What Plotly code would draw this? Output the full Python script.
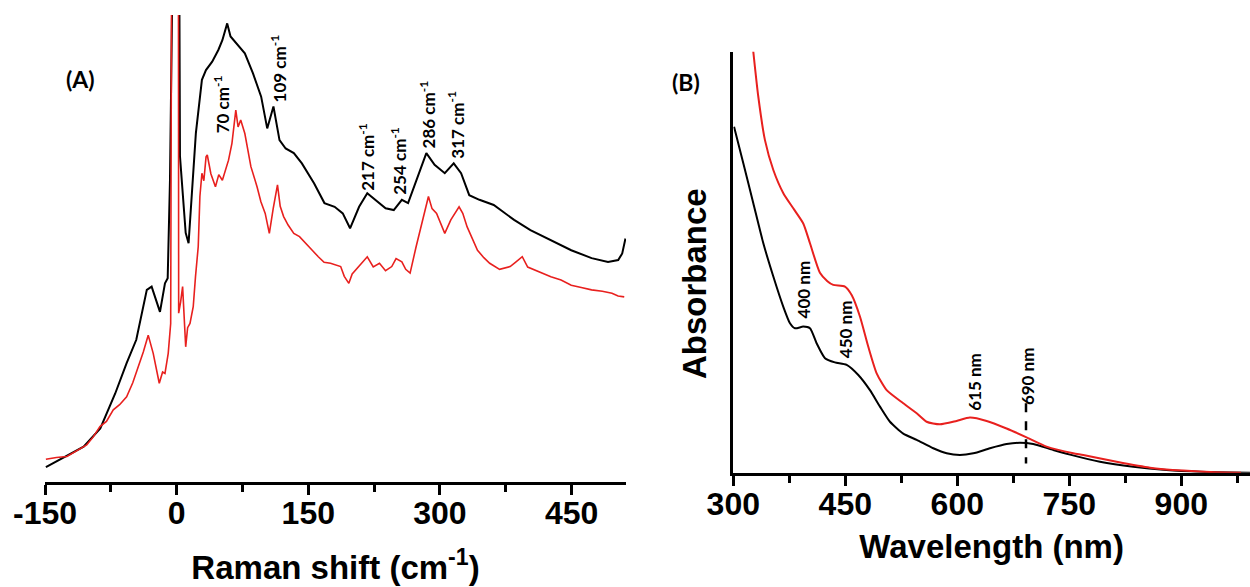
"""Raman (A) and UV-vis absorbance (B) spectra, two-panel figure."""
import plotly.graph_objects as go

# ---- panel A: Raman shift (cm-1) vs intensity (a.u.) ----
raman_x_black = [-149, -106, -87, -70, -57, -46, -34, -28.5, -19, -13.3, -10.2, -7.6,
                 -4, 2.8, 3.8, 6.5, 10.3, 13.6, 17.2, 21.9, 28.8, 33.4, 40.5, 47.5,
                 52.1, 57.6, 61.4, 68.4, 77.7, 87, 96.3, 103.2, 110.3, 117.2, 124.2,
                 133.5, 142.7, 156.7, 168.4, 180, 189.3, 197.6, 207.9, 217.2, 226.5,
                 238.1, 247.4, 256.6, 263.7, 272.9, 284.5, 293.9, 305.5, 315.7, 324.1,
                 333.4, 345, 361.3, 384.5, 403.1, 426.3, 449.6, 472.8, 491.5, 503.1,
                 507.7, 511.4]
raman_y_black = [3.1, 7.5, 11.4, 18.9, 25.4, 30.4, 41.1, 41.8, 36.4, 42.5, 43.6, 64.6,
                 120, 120, 69.7, 63.2, 53.3, 51.1, 60.4, 74.7, 86.1, 88.2, 90.0, 92.5,
                 94.6, 98.2, 95.4, 93.9, 91.8, 87.5, 82.5, 75.7, 80.4, 73.2, 71.4,
                 70.4, 68.2, 63.9, 59.7, 58.9, 57.5, 54.3, 58.9, 61.8, 60.4,
                 58.6, 58.2, 60.4, 59.7, 64.6, 70.4, 67.9, 66.1, 68.2, 66.1,
                 61.4, 60.4, 59.3, 56.1, 53.9, 51.8, 49.6, 47.9, 47.1, 47.5,
                 48.9, 52.1]

raman_x_red = [-149, -137, -125, -113, -102.5, -95, -87.4, -80, -72.2, -65, -57, -50,
               -43.7, -38, -32.4, -26.7, -19.8, -16, -13.3, -9.6, -6.8, -5.6, 2.0,
               2.3, 4.5, 6.8, 10.3, 12.5, 15.2, 18.9, 21.5, 24.6, 26.5, 28.8, 31,
               33.5, 34.9, 39, 44.2, 48, 52.1, 59.1, 63, 67.4, 70, 73, 77.7, 81,
               84.6, 91.6, 96, 100.9, 105.6, 110, 114.9, 118, 121.9, 127, 133.5,
               140, 147.4, 155, 161.4, 168, 175.3, 186.9, 191, 196.2, 200, 207.9,
               217.2, 224, 231.1, 238, 245.1, 250, 256.6, 261, 266, 272.9, 280,
               286.9, 291, 296.2, 305.5, 312.4, 321.8, 326, 331, 342.8, 350, 356.7,
               368, 380, 386, 393.8, 400, 407.8, 426.4, 438, 449.6, 461, 472.8,
               485, 496, 503, 510]
raman_y_red = [4.8, 5.2, 5.4, 6.8, 7.9, 9.6, 11.8, 12.9, 15.4, 16.5, 18.2, 21.2,
               24.6, 27.8, 31.4, 27.5, 21.1, 23.5, 23.2, 27.5, 33.9, 120, 120,
               36.1, 38.5, 41.8, 28.9, 33.0, 33.9, 37.5, 44.0, 50.4, 61.1, 66.1, 64.5,
               69.6, 70.0, 66.0, 63.2, 65.8, 64.6, 68.9, 72.5, 79.6, 76.0, 77.5, 74.6, 71.5,
               67.5, 63.2, 60.0, 57.5, 53.2, 58.5, 63.6, 59.0, 56.8, 55.0, 53.2,
               52.5, 51.1, 49.5, 48.2, 47.0, 46.8, 46.1, 44.0, 42.5, 44.5, 46.1,
               48.2, 46.0, 46.8, 45.2, 46.1, 47.8, 47.1, 45.5, 44.7, 50.4, 56.0,
               61.1, 58.5, 57.5, 53.2, 56.1, 58.9, 57.5, 54.6, 49.6, 48.0, 46.8,
               45.5, 46.1, 47.0, 48.2, 46.0, 45.4, 43.9, 43.2, 42.1, 41.6, 41.1,
               40.8, 40.4, 39.8, 39.6]

raman_ticks = [-150, 0, 150, 300, 450]
raman_tick_text = ["-150", "0", "150", "300", "450"]
raman_peaks = ["70", "109", "217", "254", "286", "317"]
raman_peak_x = [51.3, 115.7, 216.8, 252.4, 285.9, 317.8]
raman_peak_y = [80.8, 88.6, 69.6, 68.8, 78.6, 76.4]

# ---- panel B: wavelength (nm) vs absorbance (a.u.) ----
wl_black = [301, 313.4, 326.8, 340.2, 353.6, 367, 375.9, 382.6, 393.7, 402.7,
            411.7, 422.8, 436, 451.8, 467.4, 483, 496.4, 509.8, 527.6, 545.6,
            567.8, 585.7, 603.5, 621.4, 643.7, 666, 683.9, 701.7, 728.5, 751,
            791, 835.6, 880, 925, 992]
abs_black = [0.822, 0.735, 0.640, 0.545, 0.466, 0.394, 0.355, 0.343, 0.347, 0.343,
             0.307, 0.272, 0.262, 0.256, 0.232, 0.196, 0.157, 0.121, 0.093, 0.078,
             0.058, 0.046, 0.042, 0.046, 0.058, 0.068, 0.071, 0.068, 0.054, 0.043,
             0.026, 0.014, 0.0064, 0.0024, 0.0]

wl_red = [320, 326.8, 333.5, 342.4, 353.6, 367, 380.3, 393.7, 402.7, 416, 426,
          433.9, 449.5, 458.5, 469.6, 480.8, 492, 505.4, 527.6, 545.6, 558.9,
          576.7, 599, 616.9, 639.3, 666, 692.8, 719.6, 755.3, 768.7, 813.4, 858,
          902.6, 947, 980]
abs_red = [1.12, 1.0, 0.893, 0.790, 0.719, 0.664, 0.628, 0.592, 0.545, 0.475, 0.455,
           0.446, 0.442, 0.422, 0.371, 0.299, 0.236, 0.196, 0.165, 0.141, 0.121,
           0.115, 0.123, 0.131, 0.123, 0.105, 0.084, 0.062, 0.046, 0.042, 0.026,
           0.012, 0.005, 0.001, 0.0]

uv_ticks = [300, 450, 600, 750, 900]
uv_peaks = ["400", "450", "615", "690"]
uv_peak_x = [393.7, 449.6, 623.6, 695]
uv_peak_y = [0.436, 0.341, 0.216, 0.230]
dash_wl = [692, 692]
dash_abs = [0.165, 0.022]

TICK_FONT = dict(family="Liberation Sans, Arial", size=32, color="black", weight="bold")
TITLE_FONT = dict(family="Liberation Sans, Arial", size=33, color="black", weight="bold")
LABEL_FONT = dict(family="Lato, Open Sans", size=17, color="black", weight="bold")

fig = go.Figure()
fig.add_trace(go.Scatter(x=raman_x_black, y=raman_y_black, mode="lines",
                         line=dict(color="black", width=2), xaxis="x", yaxis="y"))
fig.add_trace(go.Scatter(x=raman_x_red, y=raman_y_red, mode="lines",
                         line=dict(color="#e8201e", width=1.6), xaxis="x", yaxis="y"))
fig.add_trace(go.Scatter(x=wl_black, y=abs_black, mode="lines",
                         line=dict(color="black", width=2, shape="spline", smoothing=0.6),
                         xaxis="x2", yaxis="y2"))
fig.add_trace(go.Scatter(x=wl_red, y=abs_red, mode="lines",
                         line=dict(color="#e8201e", width=2, shape="spline", smoothing=0.6),
                         xaxis="x2", yaxis="y2"))
fig.add_trace(go.Scatter(x=dash_wl, y=dash_abs, mode="lines",
                         line=dict(color="black", width=2.5, dash="dash"),
                         xaxis="x2", yaxis="y2"))

for lab, x, y in zip(raman_peaks, raman_peak_x, raman_peak_y):
    fig.add_annotation(x=x, y=y, xref="x", yref="y", text=f"{lab} cm<sup>-1</sup>",
                       textangle=-90, showarrow=False, font=LABEL_FONT)
for lab, x, y in zip(uv_peaks, uv_peak_x, uv_peak_y):
    fig.add_annotation(x=x, y=y, xref="x2", yref="y2", text=f"{lab} nm",
                       textangle=-90, showarrow=False, font=LABEL_FONT)

fig.add_annotation(x=64 / 1250, y=1 - 63 / 587, xref="paper", yref="paper",
                   text="(A)", showarrow=False,
                   font=dict(family="Lato", size=23, color="black", weight="bold"))
fig.add_annotation(x=686 / 1250, y=1 - 66 / 587, xref="paper", yref="paper",
                   text="(B)", showarrow=False,
                   font=dict(family="Lato", size=23, color="black", weight="bold"))
# y title of panel B sits lower than the axis middle, so it is placed by hand
fig.add_annotation(x=695 / 1250, y=1 - 284 / 587, xref="paper", yref="paper",
                   text="Absorbance", textangle=-90, showarrow=False, font=TITLE_FONT)

axis_common = dict(showgrid=False, zeroline=False, showline=True, linecolor="black",
                   linewidth=3, ticks="outside", ticklen=10, tickwidth=3,
                   tickcolor="black", tickfont=TICK_FONT, automargin=False,
                   ticklabelstandoff=-9)

fig.update_layout(
    width=1250, height=587,
    margin=dict(l=0, r=0, t=0, b=0),
    paper_bgcolor="white", plot_bgcolor="white",
    showlegend=False,
    xaxis=dict(domain=[45 / 1250, 626 / 1250], range=[-150, 512],
               tickvals=raman_ticks, ticktext=raman_tick_text,
               minor=dict(tickvals=[-75, 75, 225, 375], ticks="outside",
                          ticklen=7, tickwidth=3, tickcolor="black"),
               title=dict(text="Raman shift (cm<sup>-1</sup>)", font=TITLE_FONT,
                          standoff=26),
               anchor="y", **axis_common),
    yaxis=dict(domain=[1 - 481.7 / 587, 1 - 15 / 587], range=[0, 100],
               visible=False, anchor="x", automargin=False),
    xaxis2=dict(domain=[733.3 / 1250, 1.0], range=[300, 992],
                tickvals=uv_ticks,
                minor=dict(tickvals=[375, 525, 675, 825, 975], ticks="outside",
                           ticklen=7, tickwidth=3, tickcolor="black"),
                title=dict(text="Wavelength (nm)", font=TITLE_FONT, standoff=14),
                anchor="y2", **axis_common),
    yaxis2=dict(domain=[1 - 472.7 / 587, 1 - 51.7 / 587], range=[0, 1.0],
                showgrid=False, zeroline=False, showline=True, linecolor="black",
                linewidth=3, showticklabels=False, ticks="", automargin=False,
                anchor="x2"),
)

# the page body has a default 8px margin; drop it so the figure sits at 0,0
fig.write_html("out.html", config={"displayModeBar": False},
               post_script="document.body.style.margin='0';document.body.style.overflow='hidden';")
